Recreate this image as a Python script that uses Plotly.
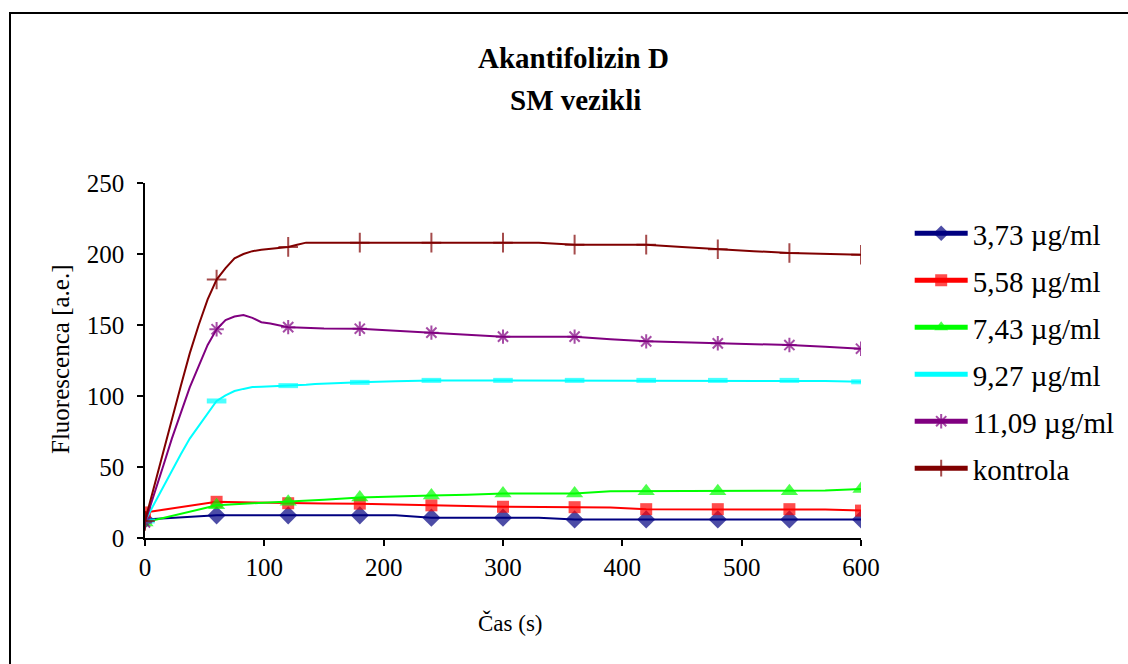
import plotly.graph_objects as go

# ---- data ----
t_fast = [0, 7.5, 15, 22.5, 30, 37.5, 45, 52.5, 60, 67.5, 75, 82.5, 90, 97.5, 105,
          112.5, 120, 127.5, 135, 142.5, 150, 180, 210, 240, 270, 300, 330, 360,
          390, 420, 450, 480, 510, 540, 570, 600]
t_slow = [0, 60, 90, 120, 150, 180, 210, 240, 270, 300, 330, 360, 390, 420, 450,
          480, 510, 540, 570, 600]

c_373 = [13, 16, 16, 16, 16, 16, 16, 14.3, 14.3, 14.3, 14.3, 13.1, 13.1, 13.1, 13.1,
         13.1, 13.1, 13.1, 13.1, 13.1]
c_558 = [18, 25.5, 25, 24.5, 24.3, 24.2, 23.5, 23, 22.5, 22, 21.8, 21.7, 21.5, 20.3,
         20.3, 20.3, 20.3, 20.3, 20, 19.3]
c_743 = [11, 23, 24.5, 25.6, 27, 28.5, 29.5, 30, 30.5, 31.3, 31.3, 31.3, 33, 33, 33,
         33, 33, 33, 33.5, 34.5]
c_927 = [12, 24, 36, 48, 59, 70, 79, 88, 96.5, 100.5, 103.5, 105, 106.3, 106.5, 106.7,
         107, 107.3, 107.7, 108, 108.5, 108.8, 109.6, 110.3, 111, 111, 111, 111, 111,
         111, 111, 111, 111, 111, 111, 110.5, 110]
c_1109 = [11, 30, 50, 70, 88, 106, 121, 136, 147, 153.5, 156, 157, 155, 152, 151,
          149.5, 148.5, 148.2, 148, 147.8, 147.6, 147.4, 146, 144.6, 143.2, 141.8,
          141.8, 141.8, 140, 138.5, 137.8, 137.1, 136.5, 135.9, 134.6, 133.3]
kontrola = [12, 36, 60, 85, 107, 130, 150, 168, 182, 190, 197, 200, 202, 203, 203.5,
            204, 205, 206.5, 208, 208, 208, 208, 208, 208, 208, 208, 208, 206.6, 206.6,
            206.6, 205, 203.3, 202, 200.7, 200, 199.5]

names = ["3,73 µg/ml", "5,58 µg/ml", "7,43 µg/ml", "9,27 µg/ml", "11,09 µg/ml", "kontrola"]
x_ticks = [0, 100, 200, 300, 400, 500, 600]
y_ticks = [0, 50, 100, 150, 200, 250]

series = [
    (t_slow, c_373, "#000080", "diamond", 14, 0),
    (t_slow, c_558, "#FF0000", "square", 12, 0),
    (t_slow, c_743, "#00FF00", "triangle-up", 15, 0),
    (t_fast, c_927, "#00FFFF", "line-ew", 14, 5),
    (t_fast, c_1109, "#800080", "asterisk", 12, 2),
    (t_fast, kontrola, "#800000", "cross-thin", 14, 2),
]

FONT = "Liberation Serif, Times New Roman, serif"

fig = go.Figure()
for i, (tx, ty, col, sym, sz, lw) in enumerate(series):
    sizes = [sz if (t % 60 == 0) else 0 for t in tx]
    fig.add_trace(go.Scatter(
        x=tx, y=ty, name=names[i], mode="lines+markers",
        line=dict(color=col, width=2),
        marker=dict(symbol=sym, size=sizes, color=col,
                    line=dict(color=col, width=lw)),
        legendgroup=str(i),
    ))

fig.update_layout(
    width=1128, height=664,
    margin=dict(l=145, r=267, t=183, b=126, autoexpand=False),
    paper_bgcolor="white", plot_bgcolor="white",
    font=dict(family=FONT, color="black"),
    showlegend=True,
    legend=dict(x=1.068, xanchor="left", y=0.93, yanchor="top",
                font=dict(family=FONT, size=29, color="black"),
                itemwidth=53, itemsizing="constant", tracegroupgap=6.3,
                bgcolor="rgba(0,0,0,0)"),
    xaxis=dict(range=[0, 600], tickvals=x_ticks, showgrid=False, zeroline=False,
               showline=True, linecolor="black", linewidth=1.5,
               ticks="outside", ticklen=6, tickwidth=1.5, tickcolor="black",
               tickfont=dict(family=FONT, size=25, color="black")),
    yaxis=dict(range=[0, 250], tickvals=y_ticks, showgrid=False, zeroline=False,
               showline=True, linecolor="black", linewidth=1.5,
               ticks="outside", ticklen=6, tickwidth=1.5, tickcolor="black",
               ticklabelstandoff=8,
               tickfont=dict(family=FONT, size=25, color="black")),
    annotations=[
        dict(text="<b>Akantifolizin D</b>", xref="paper", yref="paper",
             x=(573 - 145) / 716, y=(538 - 58) / 355, xanchor="center", yanchor="middle",
             showarrow=False, font=dict(family=FONT, size=29, color="black")),
        dict(text="<b>SM vezikli</b>", xref="paper", yref="paper",
             x=(575 - 145) / 716, y=(538 - 100) / 355, xanchor="center", yanchor="middle",
             showarrow=False, font=dict(family=FONT, size=29, color="black")),
        dict(text="Čas (s)", xref="paper", yref="paper",
             x=(510 - 145) / 716, y=(538 - 623) / 355, xanchor="center", yanchor="middle",
             showarrow=False, font=dict(family=FONT, size=23, color="black")),
        dict(text="Fluorescenca [a.e.]", xref="paper", yref="paper",
             x=(60 - 145) / 716, y=(538 - 360) / 355, xanchor="center", yanchor="middle",
             textangle=-90, showarrow=False, font=dict(family=FONT, size=25, color="black")),
    ],
    shapes=[
        dict(type="rect", xref="paper", yref="paper",
             x0=(10 - 145) / 716, x1=(1160 - 145) / 716,
             y0=(538 - 700) / 355, y1=(538 - 13) / 355,
             line=dict(color="black", width=2), fillcolor="rgba(0,0,0,0)", layer="below"),
    ],
)

fig.write_html("out.html")
